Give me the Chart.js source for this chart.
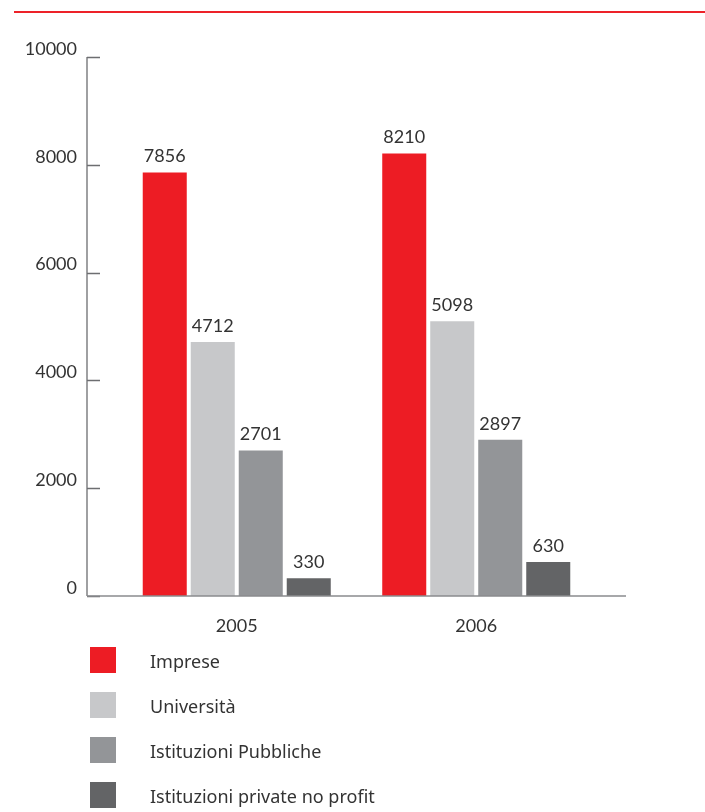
<!DOCTYPE html>
<html lang="it">
<head>
<meta charset="utf-8">
<title>Spesa per R&amp;S per settore</title>
<script src="https://cdn.jsdelivr.net/npm/chart.js@4/dist/chart.umd.min.js"></script>
<style>
  html, body { margin: 0; padding: 0; background: #ffffff; }
  #chart { display: block; }
</style>
</head>
<body>
<canvas id="chart" width="705" height="812"></canvas>
<script>
// years on the x axis
var years = ['2005', '2006'];

// one series per sector
var sectors = ['Imprese', 'Università', 'Istituzioni Pubbliche', 'Istituzioni private no profit'];
var imprese = [7856, 8210];
var universita = [4712, 5098];
var istPubbliche = [2701, 2897];
var istPrivate = [330, 630];

var yTicks = [0, 2000, 4000, 6000, 8000, 10000];

var colors = ['#ed1c24', '#c7c8ca', '#939598', '#636466'];
var series = [imprese, universita, istPubbliche, istPrivate];

var numFont = '18px Lato, sans-serif';
var textColor = '#333333';
var axisColor = '#6d6e71';

// axis lines, tick marks, value labels and the legend are painted by hand
var decorations = {
    id: 'decorations',
    afterDatasetsDraw: function (chart) {
        var ctx = chart.ctx;
        var area = chart.chartArea;
        var y = chart.scales.y;
        var top = y.getPixelForValue(10000);
        var bottom = y.getPixelForValue(0);
        var axisX = area.left - 30;

        ctx.save();

        // red rule across the top
        ctx.strokeStyle = '#ed2229';
        ctx.lineWidth = 2;
        ctx.beginPath();
        ctx.moveTo(14, 12);
        ctx.lineTo(chart.width, 12);
        ctx.stroke();

        // y axis with short inward ticks
        ctx.strokeStyle = axisColor;
        ctx.lineWidth = 1.3;
        ctx.beginPath();
        ctx.moveTo(axisX, top);
        ctx.lineTo(axisX, bottom);
        yTicks.forEach(function (v) {
            var py = Math.round(y.getPixelForValue(v)) + 0.5;
            ctx.moveTo(axisX, py);
            ctx.lineTo(axisX + 13, py);
        });
        ctx.stroke();

        // x axis
        ctx.strokeStyle = '#8a8b8e';
        ctx.lineWidth = 1.5;
        ctx.beginPath();
        ctx.moveTo(axisX, bottom);
        ctx.lineTo(area.right + 30, bottom);
        ctx.stroke();

        // values above each bar
        ctx.font = numFont;
        ctx.fillStyle = textColor;
        ctx.textAlign = 'center';
        ctx.textBaseline = 'bottom';
        chart.data.datasets.forEach(function (ds, i) {
            chart.getDatasetMeta(i).data.forEach(function (bar, j) {
                ctx.fillText(String(ds.data[j]), bar.x, bar.y - 7);
            });
        });

        // legend: one row per sector
        ctx.font = '18px "Noto Sans", sans-serif';
        ctx.textAlign = 'left';
        ctx.textBaseline = 'middle';
        chart.data.datasets.forEach(function (ds, i) {
            var ty = 647 + i * 45;
            ctx.fillStyle = ds.backgroundColor;
            ctx.fillRect(90, ty, 26, 26);
            ctx.fillStyle = textColor;
            ctx.fillText(ds.label, 150, ty + 16);
        });

        ctx.restore();
    }
};

new Chart(document.getElementById('chart'), {
    type: 'bar',
    data: {
        labels: years,
        datasets: sectors.map(function (name, i) {
            return {
                label: name,
                data: series[i],
                backgroundColor: colors[i],
                borderWidth: 0,
                categoryPercentage: 0.8017,
                barPercentage: 0.917
            };
        })
    },
    options: {
        responsive: false,
        animation: false,
        events: [],
        layout: { padding: { top: 57, right: 109, bottom: 0, left: 0 } },
        plugins: {
            legend: { display: false },
            tooltip: { enabled: false }
        },
        scales: {
            x: {
                grid: { display: false, drawTicks: false },
                border: { display: false },
                ticks: {
                    font: { family: 'Lato, sans-serif', size: 18 },
                    color: textColor,
                    padding: 19
                },
                afterFit: function (scale) { scale.height = 216; }
            },
            y: {
                min: 0,
                max: 10000,
                afterBuildTicks: function (scale) {
                    scale.ticks = yTicks.map(function (v) { return { value: v }; });
                },
                grid: { display: false, drawTicks: false },
                border: { display: false },
                ticks: {
                    font: { family: 'Lato, sans-serif', size: 18 },
                    color: textColor,
                    padding: 40,
                    labelOffset: -8,
                    callback: function (value) { return String(value); }
                },
                afterFit: function (scale) { scale.width = 117; }
            }
        }
    },
    plugins: [decorations]
});
</script>
</body>
</html>
